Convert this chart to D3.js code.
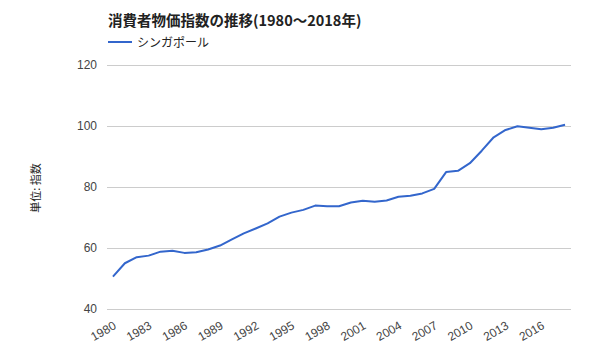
<!DOCTYPE html>
<html><head><meta charset="utf-8">
<script src="https://cdn.jsdelivr.net/npm/d3@7"></script>
<style>body{margin:0;background:#fff;}svg{display:block;font-family:Arial,"Liberation Sans","Noto Sans CJK JP",sans-serif;}</style>
</head><body><svg id="c" width="600" height="360"></svg>
<script>
const years = d3.range(1980, 2019);
const values = [50.6,55.0,57.0,57.5,58.8,59.1,58.4,58.6,59.5,60.8,62.8,64.8,66.4,68.1,70.3,71.6,72.5,73.9,73.7,73.7,74.9,75.5,75.2,75.6,76.8,77.1,77.9,79.4,84.9,85.3,87.8,91.9,96.3,98.7,99.9,99.4,98.9,99.4,100.4];
const yTicks = [40,60,80,100,120];
const xTickYears = [1980,1983,1986,1989,1992,1995,1998,2001,2004,2007,2010,2013,2016];
const seriesName = "シンガポール";
const title = "消費者物価指数の推移(1980～2018年)";
const yLabel = "単位: 指数";

const svg = d3.select("#c");
const L = 107, R = 571, T = 65, B = 309;
const x = d3.scaleBand().domain(years).range([L, R]);
const y = d3.scaleLinear().domain([40,120]).range([B, T]);

svg.append("text").attr("x",108).attr("y",26).attr("font-size",14.5).attr("font-weight","bold")
  .attr("font-family","'Noto Sans CJK JP',sans-serif").attr("fill","#222").text(title);
svg.append("line").attr("x1",108).attr("x2",132).attr("y1",42).attr("y2",42).attr("stroke","#3366cc").attr("stroke-width",2);
svg.append("text").attr("x",137).attr("y",46.5).attr("font-size",12)
  .attr("font-family","'Noto Sans CJK JP',sans-serif").attr("fill","#222").text(seriesName);

const yAxis = svg.append("g").attr("transform",`translate(${L},0)`)
  .call(d3.axisLeft(y).tickValues(yTicks).tickSize(-(R-L)).tickPadding(10));
yAxis.select(".domain").remove();
yAxis.selectAll("line").attr("stroke","#cccccc");
yAxis.selectAll("text").attr("font-size",12).attr("fill","#444").attr("font-family","Arial,'Liberation Sans',sans-serif");

const xAxis = svg.append("g").attr("transform",`translate(0,${B})`)
  .call(d3.axisBottom(x).tickValues(xTickYears).tickSize(0).tickPadding(0));
xAxis.select(".domain").remove();
xAxis.selectAll("text").attr("font-size",12).attr("fill","#444").attr("font-family","Arial,'Liberation Sans',sans-serif")
  .attr("text-anchor","end").attr("dy",null).attr("y",null)
  .attr("transform","translate(4,19) rotate(-30)");

svg.append("text").attr("transform",`translate(40,188) rotate(-90)`).attr("text-anchor","middle")
  .attr("font-size",11).attr("font-family","'Noto Sans CJK JP',sans-serif").attr("fill","#222").text(yLabel);

const line = d3.line().x((d,i)=>x(years[i])+x.bandwidth()/2).y(d=>y(d));
svg.append("path").datum(values).attr("d",line).attr("fill","none").attr("stroke","#3366cc").attr("stroke-width",2).attr("stroke-linejoin","round");
</script></body></html>
